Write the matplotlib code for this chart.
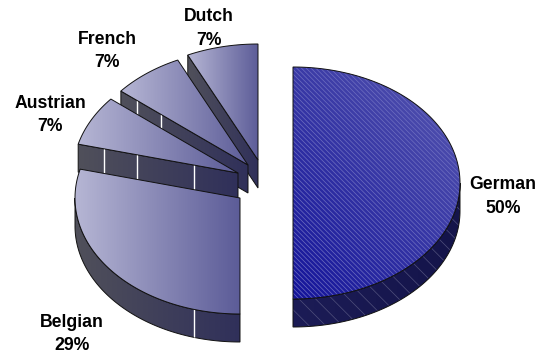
import numpy as np
import matplotlib
matplotlib.use("Agg")
import matplotlib.pyplot as plt
from matplotlib.patches import PathPatch
from matplotlib.path import Path
from matplotlib.colors import to_rgb

# share of each group, clockwise from the top
names = ["German", "Belgian", "Austrian", "French", "Dutch"]
shares = [50, 29, 7, 7, 7]

# pie layout in pixels
radii = [167, 165, 165, 165, 165]
ry, depth = 116, 28
centers = [(293, 183), (240, 198), (238, 173), (248, 165), (258, 160)]
label_pos = [(503, 196.5), (72, 334), (50, 115), (107, 51), (209, 28.5)]

plt.rcParams["font.family"] = ["Liberation Sans", "DejaVu Sans"]
plt.rcParams["hatch.linewidth"] = 0.5

fig = plt.figure(figsize=(5.41, 3.53), dpi=100)
ax = fig.add_axes([0, 0, 1, 1])
ax.axis("off")


def rim(cx, cy, rx, a0, a1, dy=0):
    t = np.radians(np.linspace(a0, a1, max(int(abs(a1 - a0)), 2) + 1))
    return np.column_stack([cx + rx * np.sin(t), cy + dy - ry * np.cos(t)])


def closed(pts):
    pts = np.vstack([pts, pts[0]])
    codes = [Path.MOVETO] + [Path.LINETO] * (len(pts) - 2) + [Path.CLOSEPOLY]
    return Path(pts, codes)


def fill(path, c0, c1, diag=False, hatch=None, hatch_color="white"):
    # horizontal gradient clipped to the path, black outline on top
    v = path.vertices
    x0, x1, y0, y1 = v[:, 0].min(), v[:, 0].max(), v[:, 1].min(), v[:, 1].max()
    if x1 - x0 < 1:
        return
    xx, yy = np.meshgrid(np.linspace(0, 1, 128), np.linspace(0, 1, 128))
    t = (0.45 * (1 - xx) + 0.55 * yy) if diag else xx
    a, b = np.array(to_rgb(c0)), np.array(to_rgb(c1))
    img = a + (b - a) * t[..., None]
    clip = PathPatch(path, fc="none", ec="none")
    ax.add_patch(clip)
    im = ax.imshow(img, extent=[x0, x1, y1, y0], aspect="auto", zorder=ax_z[0], interpolation="bilinear")
    im.set_clip_path(clip)
    if hatch:
        ax.add_patch(PathPatch(path, fc="none", ec=hatch_color, hatch=hatch, lw=0, zorder=ax_z[0] + 0.1))
    ax.add_patch(PathPatch(path, fc="none", ec="#111111", lw=0.7, zorder=ax_z[0] + 0.2))
    ax_z[0] += 1
    return clip


ax_z = [1]
bounds = np.concatenate([[0], np.cumsum(shares)]) * 3.6

# white seams in the side walls: slice index -> x positions
seams = {2: [104, 137, 194], 3: [137, 161], 1: [194]}

for i in [4, 3, 2, 1, 0]:
    a0, a1 = bounds[i], bounds[i + 1]
    cx, cy = centers[i]
    rx = radii[i]
    german = names[i] == "German"
    wall_a = ("#1c1c56", "#14144a") if german else ("#50505a", "#30305a")
    wall_hatch = "\\\\" if german else None

    # cut face on the a0 side
    p = rim(cx, cy, rx, a0, a0)[0]
    cut = closed(np.array([(cx, cy), p, (p[0], p[1] + depth), (cx, cy + depth)]))
    clip = fill(cut, *wall_a, hatch=wall_hatch, hatch_color="#50507c")
    if clip is not None:
        for x in seams.get(i, []):
            ln, = ax.plot([x, x], [0, 353], color="white", lw=1.0, zorder=ax_z[0] - 0.7)
            ln.set_clip_path(clip)

    # outer rim, only the part facing the viewer
    r0, r1 = max(a0, 90), min(a1, 270)
    if r0 < r1:
        top = rim(cx, cy, rx, r0, r1)
        low = rim(cx, cy, rx, r1, r0, depth)
        side = closed(np.vstack([top, low]))
        clip = fill(side, *wall_a, hatch=wall_hatch, hatch_color="#50507c")
        for x in seams.get(i, []) if i == 1 else []:
            ln, = ax.plot([x, x], [0, 353], color="white", lw=1.0, zorder=ax_z[0] - 0.7)
            ln.set_clip_path(clip)

    # top surface
    top = closed(np.vstack([[(cx, cy)], rim(cx, cy, rx, a0, a1)]))
    if german:
        fill(top, "#5858b0", "#14149a", diag=True, hatch="\\" * 7, hatch_color="#6e6ec0")
    else:
        fill(top, "#b6b6d4", "#5c5c98")

for name, share, (x, y) in zip(names, shares, label_pos):
    ax.text(x, y, f"{name}\n{share}%", ha="center", va="center", fontsize=12.7,
            fontweight="bold", color="black", linespacing=1.5, zorder=100)

ax.set_xlim(0, 541)
ax.set_ylim(353, 0)
fig.savefig("out.png", dpi=100)
